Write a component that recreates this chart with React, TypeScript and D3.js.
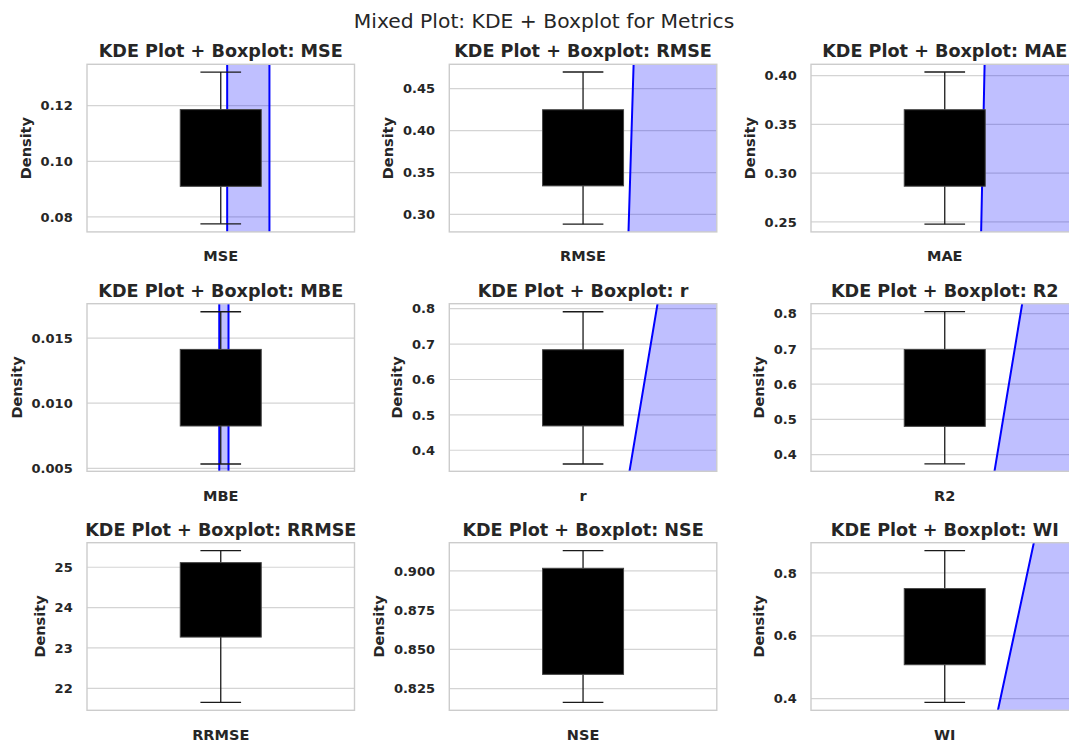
import React from 'react';
import * as d3 from 'd3';

// ---- data ----
const metrics = ["MSE", "RMSE", "MAE", "MBE", "r", "R2", "RRMSE", "NSE", "WI"];

const axisMin = [0.0746, 0.2792, 0.2397, 0.00477, 0.3405, 0.3525, 21.456, 0.8112, 0.3629];
const axisMax = [0.1349, 0.4791, 0.4117, 0.01764, 0.8142, 0.8284, 25.608, 0.918, 0.8962];

const whiskerLow = [0.0775, 0.2884, 0.2476, 0.00533, 0.3612, 0.3733, 21.654, 0.8163, 0.3883];
const q1 = [0.091, 0.3341, 0.2866, 0.00825, 0.4688, 0.4801, 23.27, 0.8341, 0.5079];
const q3 = [0.1186, 0.4249, 0.3651, 0.01413, 0.6841, 0.6983, 25.114, 0.9017, 0.7502];
const whiskerHigh = [0.1321, 0.4699, 0.4038, 0.01702, 0.7915, 0.8057, 25.41, 0.9129, 0.8708];

const tickValues: number[][] = [
  [0.08, 0.1, 0.12],
  [0.3, 0.35, 0.4, 0.45],
  [0.25, 0.3, 0.35, 0.4],
  [0.005, 0.01, 0.015],
  [0.4, 0.5, 0.6, 0.7, 0.8],
  [0.4, 0.5, 0.6, 0.7, 0.8],
  [22, 23, 24, 25],
  [0.825, 0.85, 0.875, 0.9],
  [0.4, 0.6, 0.8],
];
const tickDecimals = [2, 2, 2, 3, 1, 1, 0, 3, 1];

// KDE curves (x on the categorical axis, density); only their tails fall inside the panels
const kdeMSE: [number, number][] = [[0.024, 0.07], [0.024, 0.14], [0.1, 30], [0.182, 0.14], [0.182, 0.07]];
const kdeRMSE: [number, number][] = [[0.168, 0.26], [0.191, 0.5], [0.7, 10]];
const kdeMAE: [number, number][] = [[0.1353, 0.23], [0.1496, 0.42], [0.7, 10]];
const kdeMBE: [number, number][] = [[-0.0056, 0.004], [-0.0056, 0.018], [0.012, 50], [0.029, 0.018], [0.029, 0.004]];
const kdeR: [number, number][] = [[0.169, 0.32], [0.282, 0.83], [0.8, 20]];
const kdeR2: [number, number][] = [[0.181, 0.33], [0.292, 0.84], [0.8, 20]];
const kdeRRMSE: [number, number][] = [];
const kdeNSE: [number, number][] = [];
const kdeWI: [number, number][] = [[0.193, 0.34], [0.334, 0.9], [0.8, 20]];
const kdeCurves = [kdeMSE, kdeRMSE, kdeMAE, kdeMBE, kdeR, kdeR2, kdeRRMSE, kdeNSE, kdeWI];

// ---- layout ----
const W = 1069;
const H = 743;
const colLeft = [87, 449.3, 811];
const rowTop = [64.3, 303.7, 542.7];
const panelW = 267.5;
const panelH = 167.6;
const boxHalf = 0.1514;
const capHalf = 0.076;
const textColor = '#262626';
const gridColor = '#d4d4d4';
const FONT = 'DejaVu Sans';

let canvasCtx: CanvasRenderingContext2D | null = null;
function measure(text: string, font: string): number {
  if (!canvasCtx) {
    const c = document.createElement('canvas');
    canvasCtx = c.getContext('2d');
  }
  if (!canvasCtx) return text.length * 8;
  canvasCtx.font = font;
  return canvasCtx.measureText(text).width;
}

function Panel({ i }: { i: number }) {
  const left = colLeft[i % 3];
  const top = rowTop[Math.floor(i / 3)];
  const x = d3.scaleLinear().domain([-0.5, 0.5]).range([left, left + panelW]);
  const y = d3.scaleLinear().domain([axisMin[i], axisMax[i]]).range([top + panelH, top]);
  const fmt = d3.format(`.${tickDecimals[i]}f`);
  const labels = tickValues[i].map((t) => fmt(t));
  const maxW = Math.max(...labels.map((l) => measure(l, `bold 13px "${FONT}"`)));
  const tickRight = left - 14.3;
  const ylabelX = tickRight - maxW - 9.6;
  const clipId = `clip-${i}`;
  const curve = kdeCurves[i];
  const area = d3
    .area<[number, number]>()
    .x((d) => x(d[0]))
    .y0(y(0))
    .y1((d) => y(d[1]));
  const line = d3
    .line<[number, number]>()
    .x((d) => x(d[0]))
    .y((d) => y(d[1]));
  const cx = x(0);
  return (
    <g>
      <defs>
        <clipPath id={clipId}>
          <rect x={left} y={top} width={panelW} height={panelH} />
        </clipPath>
      </defs>
      <text
        x={left + panelW / 2}
        y={top - 7}
        textAnchor="middle"
        fontSize={17.6}
        fontWeight="bold"
        fill={textColor}
      >
        {`KDE Plot + Boxplot: ${metrics[i]}`}
      </text>
      {tickValues[i].map((t, k) => (
        <line key={k} x1={left} x2={left + panelW} y1={y(t)} y2={y(t)} stroke={gridColor} strokeWidth={1.2} />
      ))}
      {tickValues[i].map((t, k) => (
        <text
          key={`l${k}`}
          x={tickRight}
          y={y(t)}
          dy="0.36em"
          textAnchor="end"
          fontSize={13}
          fontWeight="bold"
          fill={textColor}
        >
          {labels[k]}
        </text>
      ))}
      {curve.length > 0 && (
        <g clipPath={`url(#${clipId})`}>
          <path d={area(curve) || ''} fill="blue" fillOpacity={0.25} stroke="none" />
          <path d={line(curve) || ''} fill="none" stroke="blue" strokeWidth={2} />
        </g>
      )}
      <line x1={cx} x2={cx} y1={y(whiskerLow[i])} y2={y(q1[i])} stroke="#1a1a1a" strokeWidth={1.3} />
      <line x1={cx} x2={cx} y1={y(q3[i])} y2={y(whiskerHigh[i])} stroke="#1a1a1a" strokeWidth={1.3} />
      <line x1={x(-capHalf)} x2={x(capHalf)} y1={y(whiskerLow[i])} y2={y(whiskerLow[i])} stroke="#1a1a1a" strokeWidth={1.3} />
      <line x1={x(-capHalf)} x2={x(capHalf)} y1={y(whiskerHigh[i])} y2={y(whiskerHigh[i])} stroke="#1a1a1a" strokeWidth={1.3} />
      <rect
        x={x(-boxHalf)}
        y={y(q3[i])}
        width={x(boxHalf) - x(-boxHalf)}
        height={y(q1[i]) - y(q3[i])}
        fill="#000"
        stroke="#444"
        strokeWidth={1}
      />
      <rect x={left} y={top} width={panelW} height={panelH} fill="none" stroke="#cccccc" strokeWidth={1.4} />
      <text
        x={left + panelW / 2}
        y={top + panelH + 29.5}
        textAnchor="middle"
        fontSize={14.5}
        fontWeight="bold"
        fill={textColor}
      >
        {metrics[i]}
      </text>
      <text
        transform={`translate(${ylabelX},${top + panelH / 2}) rotate(-90)`}
        textAnchor="middle"
        fontSize={14.5}
        fontWeight="bold"
        fill={textColor}
      >
        Density
      </text>
    </g>
  );
}

export default function App() {
  return (
    <svg
      width={W}
      height={H}
      style={{ position: 'absolute', left: 0, top: 0, background: '#fff' }}
      fontFamily={FONT}
    >
      <rect x={0} y={0} width={W} height={H} fill="#fff" />
      <text x={544} y={28.3} textAnchor="middle" fontSize={20.3} fill={textColor}>
        Mixed Plot: KDE + Boxplot for Metrics
      </text>
      {metrics.map((m, i) => (
        <Panel key={m} i={i} />
      ))}
    </svg>
  );
}
